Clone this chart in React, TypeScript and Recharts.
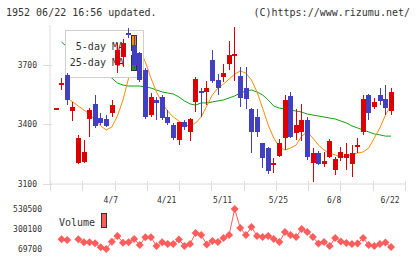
import React from 'react'
import { ComposedChart, LineChart, Line, Bar, XAxis, YAxis, ReferenceArea } from 'recharts'

// trading days shown on the chart
const dates = [
  '3/24', '3/25', '3/28', '3/29', '3/30', '3/31', '4/1', '4/4', '4/5', '4/6',
  '4/7', '4/8', '4/11', '4/12', '4/13', '4/14', '4/15', '4/18', '4/19', '4/20',
  '4/21', '4/22', '4/25', '4/26', '4/27', '4/28', '5/2', '5/6', '5/9', '5/10',
  '5/11', '5/12', '5/13', '5/16', '5/17', '5/18', '5/19', '5/20', '5/23', '5/24',
  '5/25', '5/26', '5/27', '5/30', '5/31', '6/1', '6/2', '6/3', '6/6', '6/7',
  '6/8', '6/9', '6/10', '6/13', '6/14', '6/15', '6/16', '6/17', '6/20', '6/21',
  '6/22',
]

const opens = [
  3480, 3598, 3648, 3467, 3206, 3211, 3427, 3502, 3432, 3427,
  3457, 3699, 3739, 3860, 3799, 3759, 3674, 3447, 3523, 3538,
  3437, 3397, 3321, 3412, 3362, 3513, 3568, 3563, 3724, 3623,
  3638, 3704, 3747, 3643, 3583, 3477, 3437, 3306, 3281, 3203,
  3241, 3331, 3543, 3357, 3362, 3422, 3206, 3256, 3201, 3236,
  3170, 3231, 3231, 3201, 3294, 3362, 3548, 3487, 3548, 3528,
  3467,
]

const highs = [
  3484, 3633, 3658, 3513, 3347, 3321, 3482, 3548, 3457, 3447,
  3523, 3809, 3829, 3885, 3850, 3764, 3684, 3558, 3538, 3548,
  3472, 3407, 3412, 3422, 3432, 3638, 3583, 3618, 3774, 3653,
  3704, 3819, 3890, 3689, 3689, 3482, 3477, 3306, 3286, 3231,
  3326, 3548, 3563, 3477, 3502, 3437, 3281, 3266, 3261, 3326,
  3236, 3286, 3306, 3296, 3331, 3548, 3553, 3533, 3583, 3598,
  3583,
]

const lows = [
  3480, 3573, 3497, 3417, 3200, 3206, 3336, 3382, 3397, 3387,
  3437, 3658, 3689, 3835, 3679, 3613, 3427, 3437, 3422, 3422,
  3397, 3321, 3296, 3372, 3316, 3462, 3437, 3497, 3608, 3548,
  3613, 3674, 3618, 3487, 3477, 3256, 3336, 3180, 3150, 3155,
  3236, 3271, 3331, 3321, 3316, 3221, 3110, 3196, 3186, 3231,
  3145, 3216, 3170, 3135, 3256, 3347, 3422, 3477, 3497, 3447,
  3447,
]

const closes = [
  3484, 3608, 3523, 3487, 3331, 3261, 3472, 3392, 3407, 3392,
  3497, 3774, 3809, 3850, 3699, 3623, 3437, 3538, 3508, 3432,
  3407, 3331, 3412, 3387, 3427, 3628, 3558, 3583, 3618, 3583,
  3658, 3749, 3752, 3533, 3528, 3362, 3362, 3231, 3165, 3208,
  3306, 3523, 3336, 3397, 3422, 3236, 3256, 3201, 3216, 3316,
  3226, 3261, 3251, 3256, 3298, 3528, 3457, 3513, 3518, 3482,
  3563,
]

const ma5 = [
  null, null, 3533, 3513, 3492, 3472, 3452, 3422, 3392, 3372,
  3387, 3442, 3523, 3633, 3724, 3774, 3714, 3633, 3563, 3508,
  3467, 3437, 3417, 3397, 3392, 3407, 3437, 3492, 3548, 3583,
  3603, 3628, 3653, 3669, 3658, 3623, 3563, 3482, 3397, 3331,
  3286, 3271, 3281, 3296, 3341, 3362, 3331, 3296, 3271, 3256,
  3246, 3236, 3241, 3246, 3256, 3261, 3281, 3331, 3382, 3447,
  3497,
]

const ma25 = [
  null, 3814, 3789, 3764, 3739, 3719, 3699, 3679, 3663, 3648,
  3633, 3608, 3598, 3593, 3593, 3593, 3588, 3583, 3573, 3563,
  3558, 3553, 3538, 3518, 3503, 3497, 3508, 3508, 3513, 3518,
  3523, 3533, 3543, 3558, 3568, 3573, 3563, 3548, 3523, 3492,
  3482, 3477, 3472, 3467, 3462, 3452, 3447, 3442, 3437, 3432,
  3427, 3417, 3407, 3392, 3382, 3372, 3362, 3352, 3347, 3341,
  3341,
]

const volumes = [
  null, 181400, 173400, null, 181400, 146900, 146900, 135400, 89300, 69700,
  153800, 219500, 142300, 146900, 184900, 115800, 204500, 204500, 104300, 146900,
  127300, 127300, 179100, 104300, 127300, 254000, 231000, 121500, 161900, 150300,
  196400, 231000, 530500, 311600, 231000, 323100, 219500, 207900, 219500, 184900,
  150300, 265500, 231000, 207900, 300100, 265500, 207900, 133100, 150300, 104300,
  196400, 156100, 138800, 127300, 133100, 196400, 115800, 104300, 127300, 144600,
  92700,
]

const priceTicks = [3100, 3400, 3700]
const volumeTicks = [69700, 300100, 530500]
const labelDays = [10, 20, 30, 40, 50, 60]

const rows = dates.map((date, i) => ({
  i,
  date,
  open: opens[i],
  high: highs[i],
  low: lows[i],
  close: closes[i],
  range: [lows[i], highs[i]],
  ma5: ma5[i],
  ma25: ma25[i],
  volume: volumes[i],
}))

const X_DOMAIN: [number, number] = [-1.075, 62.5]
// evenly spaced marks along the bottom axis
const frameTicks = Array.from({ length: 12 }, (_, k) => X_DOMAIN[0] + (k * (X_DOMAIN[1] - X_DOMAIN[0])) / 11)

const FONT = '"DejaVu Sans Mono", monospace'
const AXIS = '#dcdcdc'
const TEXT = '#333'
const UP = '#dd0000'
const DOWN = '#4040c0'
const VOL = '#ff5c5c'

function DateTick({ x, y, payload }: any) {
  const v = payload.value
  if (labelDays.includes(v)) {
    return (
      <text x={x - 1} y={y + 17} textAnchor="middle" fontSize={8} fontFamily={FONT} fill={TEXT}>
        {dates[v]}
      </text>
    )
  }
  const px = Math.round(x) + 0.5
  return <line x1={px} x2={px} y1={y - 5} y2={y + 5} stroke={AXIS} />
}

function PriceTick({ x, y, payload }: any) {
  const py = Math.round(y) + 0.5
  return (
    <g>
      <line x1={x - 5} x2={x + 4} y1={py} y2={py} stroke={AXIS} />
      <text x={x - 11} y={y + 3} textAnchor="end" fontSize={8} fontFamily={FONT} fill={TEXT}>
        {payload.value}
      </text>
    </g>
  )
}

function VolumeTick({ x, y, payload }: any) {
  return (
    <text x={x - 6} y={y + 3} textAnchor="end" fontSize={8} fontFamily={FONT} fill={TEXT}>
      {payload.value}
    </text>
  )
}

function Candle(props: any) {
  const { x, y, width, height, payload } = props
  if (x == null || y == null) return <g />
  const { open, close, high, low } = payload
  const color = close >= open ? UP : DOWN
  const top = Math.min(y, y + height)
  const h = Math.abs(height)
  const toY = (v: number) => (high === low ? top : top + ((high - v) / (high - low)) * h)
  const cx = Math.round(x + width / 2)
  const bTop = Math.round(toY(Math.max(open, close)))
  const bBot = Math.round(toY(Math.min(open, close)))
  return (
    <g>
      <line x1={cx + 0.5} x2={cx + 0.5} y1={Math.round(top)} y2={Math.round(top + h)} stroke={color} />
      <rect x={cx - 2} y={bTop} width={5} height={Math.max(bBot - bTop, 2)} fill={color} />
    </g>
  )
}

function MaLegend(props: any) {
  const { x, y } = props
  const bx = x + 15.5
  const by = y + 5.5
  return (
    <g>
      <rect x={bx} y={by} width={78} height={47} fill="#fff" stroke="#cfcfcf" />
      <text x={x + 74} y={y + 24.5} textAnchor="end" fontSize={10} fontFamily={FONT} fill={TEXT}>
        5-day MA
      </text>
      <text x={x + 74} y={y + 40.5} textAnchor="end" fontSize={10} fontFamily={FONT} fill={TEXT}>
        25-day MA
      </text>
      <rect x={x + 81.5} y={y + 10.5} width={5} height={15} fill="#ff8c00" stroke="#333" />
      <rect x={x + 81.5} y={y + 30.5} width={5} height={15} fill="#10a010" stroke="#333" />
    </g>
  )
}

function Diamond(props: any) {
  const { cx, cy, payload } = props
  if (payload.volume == null || cx == null || cy == null) return <g />
  return <path d={`M${cx},${cy - 4}L${cx + 4},${cy}L${cx},${cy + 4}L${cx - 4},${cy}Z`} fill={VOL} />
}

export default function App() {
  return (
    <div style={{ position: 'relative', width: 420, height: 259, background: '#fff', overflow: 'hidden' }}>
      <style>{'body{margin:0}'}</style>
      <svg width={420} height={259} style={{ position: 'absolute', left: 0, top: 0 }}>
        <text x={6} y={15.5} fontSize={10} fontFamily={FONT} fill={TEXT}>
          1952 06/22 16:56 updated.
        </text>
        <text x={410} y={15.5} textAnchor="end" fontSize={10} fontFamily={FONT} fill={TEXT}>
          (C)https://www.rizumu.net/
        </text>
        <text x={59} y={226} fontSize={10} fontFamily={FONT} fill={TEXT}>
          Volume
        </text>
        <rect x={101.5} y={213.5} width={5} height={14} fill={VOL} stroke="#333" />
      </svg>

      <div style={{ position: 'absolute', left: 0, top: 0 }}>
        <ComposedChart width={420} height={204} data={rows} margin={{ top: 25, right: 15, bottom: 0, left: 0 }}>
          <XAxis
            dataKey="i"
            type="number"
            domain={X_DOMAIN}
            ticks={[...frameTicks, ...labelDays]}
            interval={0}
            allowDataOverflow
            height={20}
            tickLine={false}
            tickSize={0}
            axisLine={{ stroke: AXIS }}
            tick={DateTick}
          />
          <YAxis
            type="number"
            domain={[3100, 3900]}
            ticks={priceTicks}
            interval={0}
            allowDataOverflow
            width={50}
            tickLine={false}
            tickSize={0}
            axisLine={{ stroke: AXIS }}
            tick={PriceTick}
          />
          <Line dataKey="ma25" stroke="#10a010" strokeWidth={1} dot={false} isAnimationActive={false} />
          <Line dataKey="ma5" stroke="#ff8c00" strokeWidth={1} dot={false} isAnimationActive={false} />
          <ReferenceArea
            x1={X_DOMAIN[0]}
            x2={X_DOMAIN[1]}
            y1={3100}
            y2={3900}
            zIndex={450}
            shape={MaLegend}
          />
          <Bar dataKey="range" barSize={5} shape={Candle} zIndex={500} isAnimationActive={false} />
        </ComposedChart>
      </div>

      <div style={{ position: 'absolute', left: 0, top: 200 }}>
        <LineChart width={420} height={59} data={rows} margin={{ top: 9, right: 15, bottom: 10, left: 0 }}>
          <XAxis dataKey="i" type="number" domain={X_DOMAIN} allowDataOverflow hide />
          <YAxis
            type="number"
            domain={[69700, 530500]}
            ticks={volumeTicks}
            interval={0}
            width={50}
            axisLine={false}
            tickLine={false}
            tickSize={0}
            tick={VolumeTick}
          />
          <Line dataKey="volume" stroke={VOL} strokeWidth={1} dot={Diamond} isAnimationActive={false} />
        </LineChart>
      </div>
    </div>
  )
}
